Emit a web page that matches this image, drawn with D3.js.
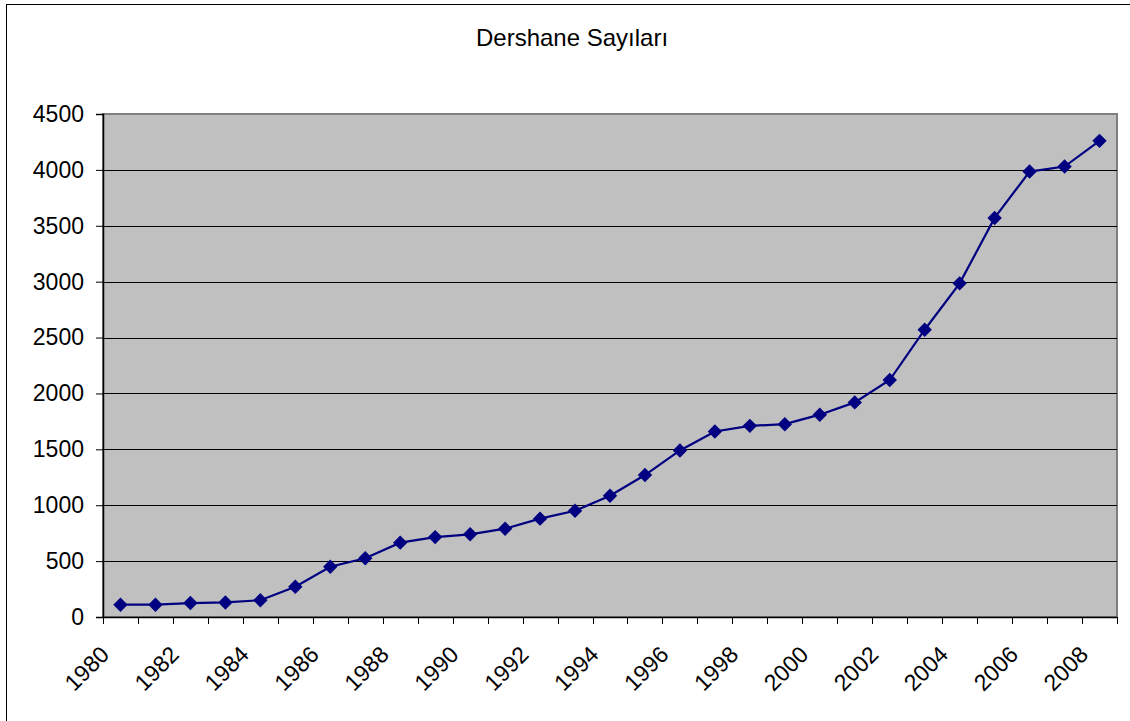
<!DOCTYPE html>
<html>
<head>
<meta charset="utf-8">
<script src="https://cdn.jsdelivr.net/npm/d3@7"></script>
<style>
  html, body { margin: 0; padding: 0; background: #fff; }
  svg { display: block; }
  text { font-family: Arial, "Liberation Sans", sans-serif; fill: #000; }
</style>
</head>
<body>
<svg id="chart" width="1130" height="721"></svg>
<script>
const title = "Dershane Sayıları";
const years = [1980,1981,1982,1983,1984,1985,1986,1987,1988,1989,1990,1991,1992,1993,1994,1995,1996,1997,1998,1999,2000,2001,2002,2003,2004,2005,2006,2007,2008];
const values = [110,110,125,130,150,270,450,525,665,715,740,790,880,950,1085,1270,1490,1660,1710,1725,1810,1920,2120,2570,2985,3570,3985,4030,4260];
const yTicks = [0,500,1000,1500,2000,2500,3000,3500,4000,4500];
const xLabels = [1980,1982,1984,1986,1988,1990,1992,1994,1996,1998,2000,2002,2004,2006,2008];

(function () {
const svg = d3.select("#chart");
const pL = 103, pR = 1117, pT = 114, pB = 617;

// outer chart border
svg.append("rect").attr("x", 6.5).attr("y", 4.5).attr("width", 1130).attr("height", 730)
  .attr("fill", "#fff").attr("stroke", "#000").attr("stroke-width", 1);

const x = d3.scaleBand().domain(years).range([pL, pR]).padding(0);
const y = d3.scaleLinear().domain([0, 4500]).range([pB, pT]);

// plot area
svg.append("rect").attr("x", pL).attr("y", pT).attr("width", pR - pL).attr("height", pB - pT)
  .attr("fill", "#C0C0C0").attr("stroke", "#808080").attr("stroke-width", 2);

// gridlines
svg.append("g").selectAll("line").data(yTicks.filter(v => v > 0 && v < 4500)).join("line")
  .attr("x1", pL).attr("x2", pR)
  .attr("y1", d => Math.round(y(d)) + 0.5).attr("y2", d => Math.round(y(d)) + 0.5)
  .attr("stroke", "#000").attr("stroke-width", 1);

// y axis
const yAxis = svg.append("g").attr("transform", `translate(${pL},0)`)
  .call(d3.axisLeft(y).tickValues(yTicks).tickSize(7).tickPadding(12).tickFormat(d3.format("d")));
yAxis.select(".domain").attr("stroke", "#000").attr("stroke-width", 1.5);
yAxis.selectAll(".tick line").attr("stroke", "#000");
yAxis.selectAll("text").attr("font-size", "23px").attr("font-family", "Arial, 'Liberation Sans', sans-serif").attr("fill", "#000");

// x axis line and ticks at category boundaries
const bounds = years.map(d => x(d)).concat([x.range()[1]]);
svg.append("line").attr("x1", pL).attr("x2", pR).attr("y1", pB + 0.5).attr("y2", pB + 0.5)
  .attr("stroke", "#000").attr("stroke-width", 1.5);
svg.append("g").selectAll("line").data(bounds).join("line")
  .attr("x1", d => Math.round(d) + 0.5).attr("x2", d => Math.round(d) + 0.5)
  .attr("y1", pB).attr("y2", pB + 7)
  .attr("stroke", "#000").attr("stroke-width", 1);

// x labels
svg.append("g").selectAll("text").data(xLabels).join("text")
  .attr("transform", d => `translate(${x(d) + x.bandwidth() / 2 - 10},656) rotate(-45)`)
  .attr("text-anchor", "end")
  .attr("font-size", "23px")
  .text(d => d);

// line
const cx = d => x(d) + x.bandwidth() / 2;
const line = d3.line().x((d, i) => cx(years[i])).y(d => y(d));
svg.append("path").datum(values).attr("d", line)
  .attr("fill", "none").attr("stroke", "#000080").attr("stroke-width", 2.2);

// diamond markers
svg.append("g").selectAll("path").data(values).join("path")
  .attr("transform", (d, i) => `translate(${cx(years[i])},${y(d)})`)
  .attr("d", "M0,-7.2L7.2,0L0,7.2L-7.2,0Z")
  .attr("fill", "#000080");

// title
svg.append("text").attr("x", 572).attr("y", 46).attr("text-anchor", "middle")
  .attr("font-size", "24px").text(title);
})();
</script>
</body>
</html>
